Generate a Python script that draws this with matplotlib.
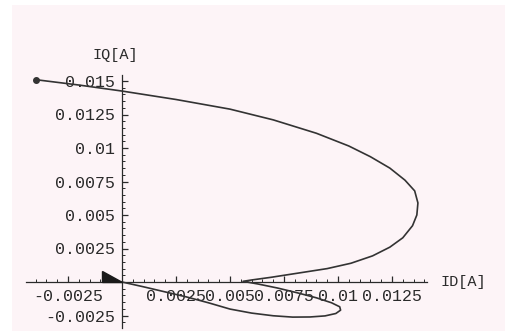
import matplotlib
matplotlib.use("Agg")
import matplotlib.pyplot as plt
from matplotlib.ticker import FixedLocator
import numpy as np

# current trajectory in the d-q plane, from the start point back to the origin
id_vals = [-0.0040, -0.0020, 0.0, 0.0025, 0.0050, 0.0070, 0.0090, 0.0105, 0.0115,
           0.0124, 0.0131, 0.01355, 0.0137, 0.01365, 0.01345, 0.0130, 0.0124,
           0.0116, 0.0106, 0.0095, 0.0081, 0.0069, 0.0060, 0.0056,
           0.0063, 0.0072, 0.0081, 0.0090, 0.0097, 0.01008, 0.01012, 0.0099,
           0.0094, 0.0087, 0.0079, 0.0070, 0.0060, 0.0050, 0.0040, 0.0030,
           0.0020, 0.0010, 0.0]
iq_vals = [0.0151, 0.0147, 0.01425, 0.01362, 0.01290, 0.01210, 0.01110, 0.01015, 0.00935,
           0.00850, 0.00760, 0.00680, 0.0059, 0.0050, 0.0042, 0.0033, 0.0026,
           0.00195, 0.0014, 0.0010, 0.00065, 0.00035, 0.00015, 0.00005,
           -0.00015, -0.00045, -0.0008, -0.00118, -0.00155, -0.00185, -0.0021, -0.00235,
           -0.00253, -0.00261, -0.00262, -0.00252, -0.00232, -0.00202, -0.00155, -0.00112,
           -0.00074, -0.00036, 0.0]

x_ticks = [-0.0025, 0.0025, 0.005, 0.0075, 0.01, 0.0125]
x_labels = ["-0.0025", "0.0025", "0.005", "0.0075", "0.01", "0.0125"]
y_ticks = [-0.0025, 0.0025, 0.005, 0.0075, 0.01, 0.0125, 0.015]
y_labels = ["-0.0025", "0.0025", "0.005", "0.0075", "0.01", "0.0125", "0.015"]

W, H = 506, 334
fig = plt.figure(figsize=(W / 100, H / 100), dpi=100, facecolor="white")
# pale paper behind the plot
fig.patches.append(plt.Rectangle((12 / W, 3 / H), 493 / W, 326 / H, transform=fig.transFigure,
                                 facecolor="#fdf4f7", edgecolor="none", zorder=-5))

ax = fig.add_axes([0, 0, 1, 1])
ax.patch.set_visible(False)

# pixel -> data scale: 54 px per 0.0025 in x, 33.5 px per 0.0025 in y, origin at (122, 282)
sx = 0.0025 / 54
sy = 0.0025 / 33.5
ax.set_xlim(-122 * sx, (W - 122) * sx)
ax.set_ylim(-(H - 282) * sy, 282 * sy)

ink = "#2a2a2a"
font = "Liberation Mono"

# axis extents
x_lo, x_hi = (26 - 122) * sx, (427 - 122) * sx
y_lo, y_hi = -(328 - 282) * sy, (282 - 75) * sy

for s in ["top", "right"]:
    ax.spines[s].set_visible(False)
ax.spines["left"].set_position("zero")
ax.spines["bottom"].set_position("zero")
ax.spines["bottom"].set_bounds(x_lo, x_hi)
ax.spines["left"].set_bounds(y_lo, y_hi)
for s in ["left", "bottom"]:
    ax.spines[s].set_color(ink)
    ax.spines[s].set_linewidth(0.9)

ax.set_xticks(x_ticks)
ax.set_xticklabels(x_labels)
ax.set_yticks(y_ticks)
ax.set_yticklabels(y_labels)
step = 0.0005
x_minor = [v for v in np.arange(-0.005, 0.0145, step) if x_lo <= v <= x_hi]
y_minor = [v for v in np.arange(-0.004, 0.016, step) if y_lo <= v <= y_hi]
ax.xaxis.set_minor_locator(FixedLocator(x_minor))
ax.yaxis.set_minor_locator(FixedLocator(y_minor))
ax.tick_params(which="major", direction="in", length=4, width=0.9, color=ink,
               labelsize=12, labelcolor=ink, pad=5)
ax.tick_params(which="minor", direction="in", length=2, width=0.7, color=ink)
for lab in ax.get_xticklabels() + ax.get_yticklabels():
    lab.set_fontfamily(font)

ax.text(-7 * sx, (282 - 55) * sy, "IQ[A]", family=font, fontsize=11, color=ink,
        ha="center", va="center")
ax.text((463 - 122) * sx, 0, "ID[A]", family=font, fontsize=11, color=ink,
        ha="center", va="center")

ax.plot(id_vals, iq_vals, color="#333333", lw=1.2, zorder=3, solid_joinstyle="round")
ax.plot(id_vals[0], iq_vals[0], "o", color="#333333", ms=4, zorder=4)

# arrow head at the end of the path
tip_x, tip_y = id_vals[-1], iq_vals[-1]
ax.fill([tip_x - 20 * sx, tip_x - 20 * sx, tip_x],
        [tip_y + 11 * sy, tip_y, tip_y], color="#1a1a1a", zorder=4)

fig.savefig("out.png", dpi=100, facecolor=fig.get_facecolor())
